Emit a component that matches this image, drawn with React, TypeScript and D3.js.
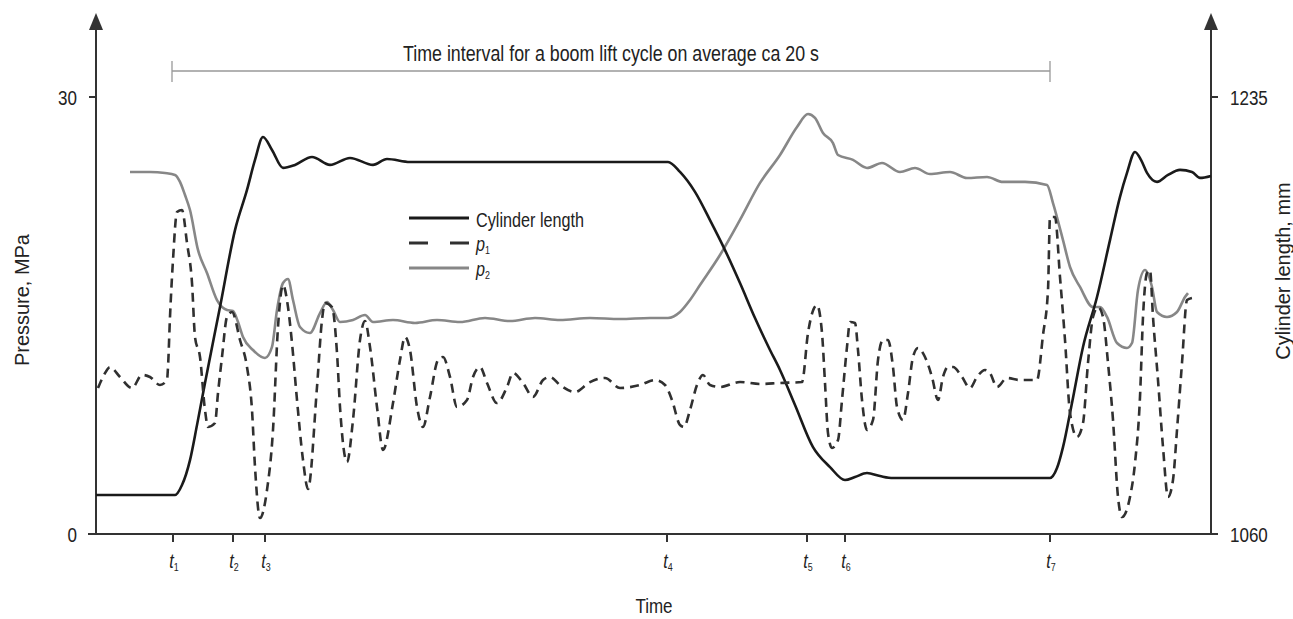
import React from "react";
import * as d3 from "d3";

// time in arbitrary units (≈ 23 ms each); t1..t7 marker times
const eventLabels = ["1", "2", "3", "4", "5", "6", "7"];
const eventTimes = [77, 137, 169, 571, 711, 749, 954];
const intervalStart = 76;
const intervalEnd = 954;
const intervalText = "Time interval for a boom lift cycle on average ca 20 s";

// Cylinder length, mm
const cylTime = [0, 79, 86, 94, 101, 109, 124, 139, 151, 159, 167, 176, 187, 199, 216, 234, 254, 277, 291, 314, 572, 584, 599, 614, 629, 644, 659, 674, 684, 699, 717, 734, 749, 759, 771, 784, 797, 954, 961, 967, 976, 987, 1001, 1014, 1024, 1031, 1039, 1045, 1051, 1061, 1072, 1084, 1096, 1104, 1115];
const cylLength = [1075.6, 1075.6, 1079.6, 1089.6, 1103.6, 1120.5, 1150.9, 1181.7, 1197.8, 1209.8, 1219.0, 1213.8, 1206.6, 1207.8, 1211.0, 1207.8, 1210.6, 1207.8, 1210.2, 1209.0, 1209.0, 1205.0, 1197.0, 1185.7, 1173.7, 1160.5, 1146.5, 1133.7, 1125.7, 1111.7, 1094.8, 1086.8, 1081.6, 1082.8, 1084.4, 1083.2, 1082.4, 1082.4, 1086.4, 1094.8, 1112.5, 1134.9, 1154.9, 1177.7, 1195.0, 1204.6, 1213.0, 1209.8, 1204.6, 1201.0, 1203.8, 1205.8, 1205.0, 1202.6, 1203.4];

// p1, MPa
const p1Time = [2, 8, 14, 24, 36, 46, 54, 64, 71, 72, 74, 77, 81, 86, 91, 96, 99, 104, 109, 112, 119, 122, 126, 131, 136, 144, 151, 156, 159, 164, 171, 177, 182, 187, 192, 196, 201, 207, 212, 221, 226, 229, 236, 241, 244, 251, 257, 264, 269, 274, 281, 287, 297, 304, 309, 314, 321, 327, 334, 342, 347, 354, 361, 371, 377, 384, 391, 401, 411, 417, 427, 437, 447, 454, 464, 479, 494, 509, 524, 544, 559, 569, 576, 584, 588, 594, 601, 607, 614, 624, 644, 664, 684, 706, 712, 721, 726, 729, 732, 736, 742, 746, 751, 754, 759, 762, 766, 771, 777, 782, 787, 792, 797, 801, 807, 812, 817, 822, 829, 836, 842, 847, 852, 857, 866, 874, 881, 889, 894, 901, 911, 924, 941, 947, 952, 954, 959, 964, 969, 974, 981, 987, 992, 997, 1002, 1007, 1012, 1017, 1022, 1026, 1034, 1039, 1044, 1047, 1051, 1054, 1057, 1062, 1067, 1072, 1077, 1081, 1086, 1091, 1096];
const p1Values = [10.02, 10.92, 11.46, 10.78, 10.02, 10.92, 10.78, 10.23, 10.57, 11.46, 14.9, 18.81, 22.1, 22.24, 19.98, 17.23, 13.52, 12.15, 8.51, 7.35, 7.62, 9.68, 12.15, 14.9, 15.24, 13.32, 11.46, 8.51, 4.6, 1.1, 3.02, 7.14, 14.21, 17.09, 15.58, 13.11, 9.2, 5.08, 3.09, 10.09, 14.69, 15.86, 15.58, 12.43, 8.72, 4.94, 7.83, 13.32, 14.62, 12.84, 8.72, 5.77, 8.99, 11.95, 13.52, 12.63, 8.72, 7.35, 9.41, 11.95, 12.15, 10.78, 8.72, 9.2, 10.78, 11.46, 10.37, 8.99, 10.09, 11.05, 10.37, 9.41, 10.57, 10.78, 10.23, 9.75, 10.43, 10.71, 10.02, 10.23, 10.57, 10.23, 9.2, 7.48, 7.35, 8.51, 10.23, 10.92, 10.23, 10.09, 10.43, 10.3, 10.37, 10.43, 13.8, 15.72, 13.8, 10.37, 6.93, 5.9, 6.45, 9.2, 12.84, 14.55, 14.49, 12.63, 9.2, 7.14, 7.83, 11.95, 13.32, 13.32, 11.46, 8.72, 7.83, 9.68, 12.15, 12.77, 12.15, 10.78, 9.2, 10.78, 11.46, 11.46, 10.78, 10.02, 10.78, 11.26, 11.05, 10.09, 10.71, 10.57, 10.57, 13.66, 16.75, 21.76, 21.76, 17.64, 13.32, 8.31, 6.66, 7.62, 11.74, 14.9, 15.58, 14.9, 11.74, 7.83, 2.54, 1.17, 2.54, 4.87, 9.41, 14.9, 17.92, 18.12, 14.9, 10.57, 5.97, 2.54, 3.71, 7.14, 11.74, 16.06, 16.2];

// p2, MPa
const p2Time = [34, 54, 69, 79, 84, 89, 94, 102, 111, 121, 131, 137, 142, 147, 157, 169, 176, 181, 187, 192, 197, 204, 214, 224, 231, 237, 244, 257, 269, 277, 297, 319, 341, 364, 389, 414, 439, 464, 494, 524, 554, 572, 584, 594, 604, 624, 644, 664, 684, 701, 712, 719, 727, 737, 742, 757, 771, 786, 804, 819, 834, 854, 871, 891, 907, 929, 951, 957, 967, 974, 984, 997, 1004, 1011, 1021, 1031, 1036, 1042, 1049, 1056, 1061, 1071, 1081, 1089, 1092];
const p2Values = [24.85, 24.85, 24.78, 24.65, 24.17, 23.27, 22.24, 19.5, 17.92, 16.06, 15.38, 15.31, 14.55, 13.52, 12.63, 12.08, 12.84, 15.38, 17.23, 17.51, 16.06, 14.21, 13.8, 15.17, 15.93, 15.38, 14.55, 14.69, 15.03, 14.55, 14.69, 14.49, 14.69, 14.55, 14.83, 14.62, 14.83, 14.69, 14.83, 14.76, 14.83, 14.83, 15.24, 16.06, 17.09, 19.15, 21.56, 24.1, 26.02, 27.94, 28.83, 28.56, 27.53, 26.84, 26.02, 25.68, 25.13, 25.47, 24.85, 25.13, 24.71, 24.85, 24.44, 24.51, 24.17, 24.17, 23.96, 22.72, 20.18, 18.33, 16.96, 15.58, 15.58, 14.9, 13.11, 12.77, 13.11, 16.75, 18.12, 16.96, 15.24, 14.9, 15.24, 16.27, 16.54];

const pressureTicks = [0, 30];
const lengthTicks = [1060, 1235];

const W = 1293;
const H = 619;
const FONT = "'Liberation Sans', Arial, sans-serif";
const SX = 0.81; // condensed look of the original typeface

function CText({ x, y, size, anchor = "start", children, fill = "#222" }: any) {
  return (
    <text
      transform={`translate(${x},${y}) scale(${SX},1)`}
      textAnchor={anchor}
      fontSize={size}
      fill={fill}
    >
      {children}
    </text>
  );
}

export default function App() {
  const x = d3.scaleLinear().domain([0, 1115]).range([96, 1211]);
  const yP = d3.scaleLinear().domain([0, 30]).range([534, 97]);
  const yL = d3.scaleLinear().domain([1060, 1235]).range([534, 97]);

  const curve = d3.curveMonotoneX;
  const lineP = d3
    .line<[number, number]>()
    .x((d) => x(d[0]))
    .y((d) => yP(d[1]))
    .curve(curve);
  const lineL = d3
    .line<[number, number]>()
    .x((d) => x(d[0]))
    .y((d) => yL(d[1]))
    .curve(curve);

  const cyl = cylTime.map((t, i) => [t, cylLength[i]] as [number, number]);
  const p1 = p1Time.map((t, i) => [t, p1Values[i]] as [number, number]);
  const p2 = p2Time.map((t, i) => [t, p2Values[i]] as [number, number]);

  const x0 = x(0);
  const x1 = x(1115);
  const yBase = yP(0);
  const axisColor = "#333";

  const legendX = 409;

  return (
    <svg
      width={W}
      height={H}
      style={{ position: "absolute", left: 0, top: 0, background: "#fff" }}
      fontFamily={FONT}
    >
      {/* axes */}
      <line x1={x0 - 8} x2={x1 + 7} y1={yBase} y2={yBase} stroke={axisColor} strokeWidth={2} />
      <line x1={x0} x2={x0} y1={yBase} y2={28} stroke={axisColor} strokeWidth={2} />
      <path d={`M${x0},13 L${x0 - 7},30 L${x0 + 7},30 Z`} fill={axisColor} />
      <line x1={x1} x2={x1} y1={yBase} y2={28} stroke={axisColor} strokeWidth={2} />
      <path d={`M${x1},13 L${x1 - 7},30 L${x1 + 7},30 Z`} fill={axisColor} />

      {pressureTicks.map((v) => (
        <g key={"pt" + v}>
          {v !== 0 && <line x1={x0 - 7} x2={x0} y1={yP(v)} y2={yP(v)} stroke={axisColor} strokeWidth={2} />}
          <CText x={x0 - 19} y={yP(v) + 8} size={21} anchor="end">{v}</CText>
        </g>
      ))}
      {lengthTicks.map((v) => (
        <g key={"lt" + v}>
          <line x1={x1} x2={x1 + 7} y1={yL(v)} y2={yL(v)} stroke={axisColor} strokeWidth={2} />
          <CText x={x1 + 19} y={yL(v) + 8} size={21}>{v}</CText>
        </g>
      ))}

      {eventTimes.map((t, i) => (
        <g key={"ev" + i}>
          <line x1={x(t)} x2={x(t)} y1={yBase} y2={yBase + 8} stroke={axisColor} strokeWidth={2} />
          <CText x={x(t) + 1} y={yBase + 34} size={20} anchor="middle">
            <tspan fontStyle="italic">t</tspan>
            <tspan fontSize={11} dy={3}>{eventLabels[i]}</tspan>
          </CText>
        </g>
      ))}

      {/* axis titles */}
      <CText x={654} y={613} size={21} anchor="middle">Time</CText>
      <text
        transform="translate(29,300) rotate(-90) scale(0.95,1)"
        textAnchor="middle"
        fontSize={21}
        fill="#222"
      >
        Pressure, MPa
      </text>
      <text
        transform="translate(1290,271) rotate(-90) scale(0.95,1)"
        textAnchor="middle"
        fontSize={21}
        fill="#222"
      >
        Cylinder length, mm
      </text>

      {/* interval bar */}
      <line x1={x(intervalStart)} x2={x(intervalEnd)} y1={71} y2={71} stroke="#999" strokeWidth={1.3} />
      <line x1={x(intervalStart)} x2={x(intervalStart)} y1={61} y2={82} stroke="#999" strokeWidth={1.3} />
      <line x1={x(intervalEnd)} x2={x(intervalEnd)} y1={61} y2={82} stroke="#999" strokeWidth={1.3} />
      <CText x={611} y={61} size={22} anchor="middle">{intervalText}</CText>

      {/* series */}
      <path d={lineP(p2) || ""} fill="none" stroke="#878787" strokeWidth={2.6} strokeLinejoin="round" />
      <path d={lineL(cyl) || ""} fill="none" stroke="#1a1a1a" strokeWidth={2.6} strokeLinejoin="round" />
      <path d={lineP(p1) || ""} fill="none" stroke="#303030" strokeWidth={2.6} strokeDasharray="9 6" strokeLinejoin="round" />

      {/* legend */}
      <line x1={legendX} x2={legendX + 60} y1={218} y2={218} stroke="#1a1a1a" strokeWidth={3} />
      <line x1={legendX} x2={legendX + 60} y1={243} y2={243} stroke="#303030" strokeWidth={3} strokeDasharray="19 22" />
      <line x1={legendX} x2={legendX + 60} y1={268} y2={268} stroke="#878787" strokeWidth={3} />
      <CText x={476} y={227} size={20}>Cylinder length</CText>
      <CText x={476} y={251} size={20}>
        <tspan fontStyle="italic">p</tspan>
        <tspan fontSize={11} dy={3}>1</tspan>
      </CText>
      <CText x={476} y={276} size={20}>
        <tspan fontStyle="italic">p</tspan>
        <tspan fontSize={11} dy={3}>2</tspan>
      </CText>
    </svg>
  );
}
